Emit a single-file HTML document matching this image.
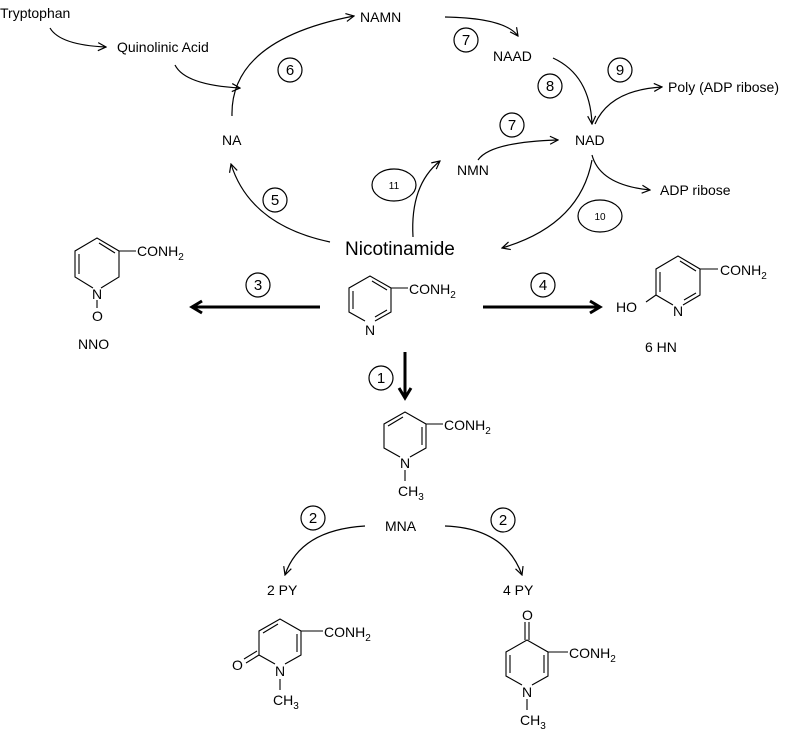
<!DOCTYPE html>
<html><head><meta charset="utf-8"><style>
html,body{margin:0;padding:0;background:#fff}
svg{display:block}
text{font-family:"Liberation Sans","DejaVu Sans",sans-serif;fill:#000}
</style></head><body>
<svg width="800" height="733" viewBox="0 0 800 733" xmlns="http://www.w3.org/2000/svg">
<defs>
<marker id="a" markerWidth="10" markerHeight="10" refX="9" refY="5" orient="auto" markerUnits="userSpaceOnUse">
<path d="M1,1 L9,5 L1,9" fill="none" stroke="#000" stroke-width="1.2"/></marker>
<marker id="b" markerWidth="16" markerHeight="16" refX="12" refY="8" orient="auto" markerUnits="userSpaceOnUse">
<path d="M2,2 L12,8 L2,14" fill="none" stroke="#000" stroke-width="3"/></marker>
</defs>
<g font-size="14">
<text x="0" y="18">Tryptophan</text>
<text x="117" y="52">Quinolinic Acid</text>
<text x="360" y="22">NAMN</text>
<text x="493" y="61">NAAD</text>
<text x="668" y="92">Poly (ADP ribose)</text>
<text x="222" y="145">NA</text>
<text x="575" y="145">NAD</text>
<text x="457" y="175">NMN</text>
<text x="660" y="195">ADP ribose</text>
<text x="345" y="255" font-size="19">Nicotinamide</text>
<text x="78" y="349">NNO</text>
<text x="645" y="352">6 HN</text>
<text x="385" y="531">MNA</text>
<text x="267" y="595">2 PY</text>
<text x="503" y="595">4 PY</text>
</g>
<g fill="none" stroke="#000" stroke-width="1.2">
<path d="M50,28 Q60,45 106,47" marker-end="url(#a)"/>
<path d="M175,65 Q185,85 240,88" marker-end="url(#a)"/>
<path d="M232,116 Q230,40 354,16" marker-end="url(#a)"/>
<path d="M445,17 Q505,18 518,36" marker-end="url(#a)"/>
<path d="M553,58 Q590,75 592,124" marker-end="url(#a)"/>
<path d="M595,124 Q610,90 662,87" marker-end="url(#a)"/>
<path d="M478,160 Q490,142 558,140" marker-end="url(#a)"/>
<path d="M592,155 Q600,185 650,190" marker-end="url(#a)"/>
<path d="M592,160 Q580,225 502,248" marker-end="url(#a)"/>
<path d="M330,242 Q250,225 231,164" marker-end="url(#a)"/>
<path d="M413,237 Q410,185 440,161" marker-end="url(#a)"/>
<path d="M365,526 Q300,530 285,575" marker-end="url(#a)"/>
<path d="M445,526 Q505,528 522,575" marker-end="url(#a)"/>
</g>
<g fill="none" stroke="#000" stroke-width="3">
<line x1="320" y1="307" x2="192" y2="307" marker-end="url(#b)"/>
<line x1="483" y1="307" x2="600" y2="307" marker-end="url(#b)"/>
<line x1="405" y1="352" x2="405" y2="398" marker-end="url(#b)"/>
</g>
<g fill="none" stroke="#000" stroke-width="1.2">
<circle cx="466" cy="40" r="12"/><circle cx="290" cy="70" r="12"/>
<circle cx="550" cy="86" r="12"/><circle cx="620" cy="70" r="12"/>
<circle cx="512" cy="125" r="12"/><circle cx="275" cy="200" r="12"/>
<ellipse cx="394" cy="185" rx="22" ry="16"/><ellipse cx="600" cy="216" rx="22" ry="16"/>
<circle cx="258" cy="285" r="12"/><circle cx="543" cy="285" r="12"/>
<circle cx="381" cy="378" r="12"/><circle cx="313" cy="518" r="12"/><circle cx="503" cy="520" r="12"/>
</g>
<g font-size="15" text-anchor="middle">
<text x="466" y="45">7</text><text x="290" y="75">6</text><text x="550" y="91">8</text>
<text x="620" y="75">9</text><text x="512" y="130">7</text><text x="275" y="205">5</text>
<text x="394" y="189" font-size="10">11</text><text x="600" y="220" font-size="10">10</text>
<text x="258" y="290">3</text><text x="543" y="290">4</text><text x="381" y="383">1</text>
<text x="313" y="523">2</text><text x="503" y="525">2</text>
</g>
<g fill="none" stroke="#000" stroke-width="1.1">
<!-- nicotinamide -->
<path d="M375,321 L391,312 L391,288 L370,276 L349,288 L349,312 L365,321"/>
<path d="M372,281 L387,290 M387,310 L375,317 M353,291 L353,309"/>
<line x1="391" y1="288" x2="408" y2="288"/>
<!-- NNO -->
<path d="M101,288 L119,277 L119,251 L97,238 L75,251 L75,277 L93,288"/>
<path d="M99,243 L115,253 M79,254 L79,274"/>
<line x1="119" y1="251" x2="136" y2="251"/>
<line x1="97" y1="300" x2="97" y2="308"/>
<!-- 6HN -->
<path d="M683,305 L700,295 L700,269 L678,256 L656,269 L656,295 L673,305"/>
<path d="M680,261 L696,271 M696,293 L684,300 M660,272 L660,292"/>
<line x1="700" y1="269" x2="718" y2="269"/>
<line x1="656" y1="295" x2="646" y2="302"/>
<!-- MNA -->
<path d="M410,457 L426,448 L426,424 L405,412 L384,424 L384,448 L400,457"/>
<path d="M403,417 L388,426 M422,427 L422,445"/>
<line x1="426" y1="424" x2="443" y2="424"/>
<line x1="405" y1="470" x2="405" y2="481"/>
<!-- 2PY -->
<path d="M285,664 L301,655 L301,631 L280,619 L259,631 L259,655 L275,664"/>
<path d="M278,624 L263,633 M297,634 L297,652"/>
<line x1="301" y1="631" x2="323" y2="631"/>
<path d="M259,655 L246,663 M257,651 L244,659"/>
<line x1="280" y1="679" x2="280" y2="690"/>
<!-- 4PY -->
<path d="M532,685 L548,676 L548,652 L527,640 L506,652 L506,676 L522,685"/>
<path d="M510,655 L510,673 M544,655 L544,673"/>
<line x1="548" y1="652" x2="568" y2="652"/>
<path d="M525,622 L525,640 M529,622 L529,640"/>
<line x1="527" y1="699" x2="527" y2="710"/>
</g>
<g font-size="14">
<text x="409" y="294">CONH<tspan font-size="10" dy="4">2</tspan></text>
<text x="365" y="335">N</text>
<text x="137" y="256">CONH<tspan font-size="10" dy="4">2</tspan></text>
<text x="92" y="299">N</text><text x="92" y="321">O</text>
<text x="720" y="275">CONH<tspan font-size="10" dy="4">2</tspan></text>
<text x="673" y="316">N</text><text x="616" y="312">HO</text>
<text x="444" y="430">CONH<tspan font-size="10" dy="4">2</tspan></text>
<text x="400" y="468">N</text>
<text x="398" y="496">CH<tspan font-size="10" dy="4">3</tspan></text>
<text x="324" y="637">CONH<tspan font-size="10" dy="4">2</tspan></text>
<text x="275" y="676">N</text><text x="232" y="670">O</text>
<text x="273" y="705">CH<tspan font-size="10" dy="4">3</tspan></text>
<text x="569" y="658">CONH<tspan font-size="10" dy="4">2</tspan></text>
<text x="522" y="620">O</text>
<text x="522" y="697">N</text>
<text x="520" y="725">CH<tspan font-size="10" dy="4">3</tspan></text>
</g>
</svg>
</body></html>
